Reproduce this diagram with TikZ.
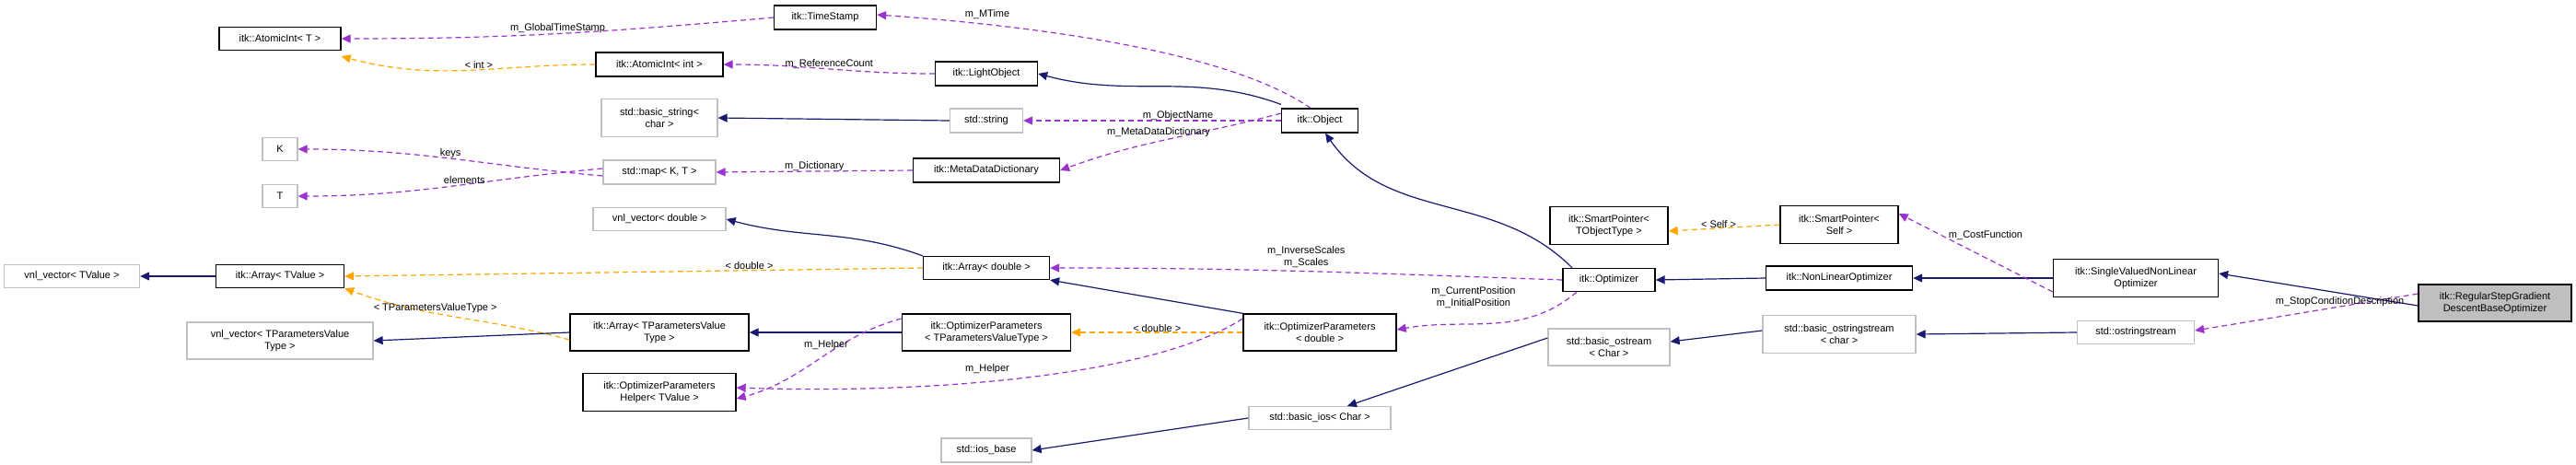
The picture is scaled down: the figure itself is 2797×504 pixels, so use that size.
\documentclass[tikz,border=0pt]{standalone}
\usepackage{fontspec}
\setmainfont{Liberation Sans}
\usetikzlibrary{arrows.meta}
\definecolor{inh}{HTML}{191970}
\definecolor{use}{HTML}{9A32CD}
\definecolor{tpl}{HTML}{FFA500}
\begin{document}
\begin{tikzpicture}[x=1pt,y=-1pt,
  every node/.style={font=\fontsize{11}{13.5}\selectfont, align=center, inner sep=1pt},
  box/.style={draw=black, line width=1.3pt, fill=white},
  gbox/.style={draw=black!25, line width=1.3pt, fill=white},
  mainbox/.style={draw=black, line width=1.3pt, fill=black!25},
  inhe/.style={draw=inh, line width=1.2pt, -{Triangle[length=10pt,width=9pt]}},
  usee/.style={draw=use, line width=1.2pt, dash pattern=on 6pt off 4pt, -{Triangle[length=10pt,width=9pt]}},
  tple/.style={draw=tpl, line width=1.2pt, dash pattern=on 6pt off 4pt, -{Triangle[length=10pt,width=9pt]}},
  lbl/.style={fill=none, inner sep=0pt}]
\useasboundingbox (0,0) rectangle (2797,504);
% nodes
\node[box, minimum width=132, minimum height=25] (ait) at (304,42) {itk::AtomicInt< T >};
\node[box, minimum width=111, minimum height=26] (ts) at (896,19) {itk::TimeStamp};
\node[box, minimum width=138, minimum height=26] (aii) at (716,70) {itk::AtomicInt< int >};
\node[gbox, minimum width=126, minimum height=41] (bs) at (716,128) {std::basic\_string<\\char >};
\node[gbox, minimum width=38, minimum height=25] (K) at (304,162) {K};
\node[gbox, minimum width=38, minimum height=25] (T) at (304,213) {T};
\node[gbox, minimum width=122, minimum height=26] (map) at (716,187) {std::map< K, T >};
\node[gbox, minimum width=144, minimum height=25] (vvd) at (716,238) {vnl\_vector< double >};
\node[gbox, minimum width=147, minimum height=25] (vvt) at (78,300) {vnl\_vector< TValue >};
\node[box, minimum width=139, minimum height=25] (atv) at (304,300) {itk::Array< TValue >};
\node[gbox, minimum width=202, minimum height=40] (vvp) at (304,370) {vnl\_vector< TParametersValue\\Type >};
\node[box, minimum width=194, minimum height=40] (atp) at (716,361) {itk::Array< TParametersValue\\Type >};
\node[box, minimum width=166, minimum height=41] (hlp) at (716,426) {itk::OptimizerParameters\\Helper< TValue >};
\node[box, minimum width=111, minimum height=26] (lo) at (1071,80) {itk::LightObject};
\node[gbox, minimum width=79, minimum height=26] (str) at (1071,131) {std::string};
\node[box, minimum width=159, minimum height=26] (mdd) at (1071,185) {itk::MetaDataDictionary};
\node[box, minimum width=83, minimum height=26] (obj) at (1433,131) {itk::Object};
\node[box, minimum width=137, minimum height=25] (ad) at (1071,291) {itk::Array< double >};
\node[box, minimum width=183, minimum height=40] (opp) at (1071,361) {itk::OptimizerParameters\\< TParametersValueType >};
\node[box, minimum width=166, minimum height=40] (opd) at (1433,361) {itk::OptimizerParameters\\< double >};
\node[box, minimum width=128, minimum height=41] (spt) at (1747,245) {itk::SmartPointer<\\TObjectType >};
\node[box, minimum width=100, minimum height=25] (opt) at (1747,304) {itk::Optimizer};
\node[gbox, minimum width=132, minimum height=40] (bos) at (1747,377) {std::basic\_ostream\\< Char >};
\node[gbox, minimum width=154, minimum height=25] (bio) at (1433,454) {std::basic\_ios< Char >};
\node[gbox, minimum width=98, minimum height=26] (iob) at (1071,489) {std::ios\_base};
\node[box, minimum width=128, minimum height=41] (sps) at (1997,244) {itk::SmartPointer<\\Self >};
\node[box, minimum width=159, minimum height=26] (nlo) at (1997,302) {itk::NonLinearOptimizer};
\node[box, minimum width=179, minimum height=41] (svo) at (2319,302) {itk::SingleValuedNonLinear\\Optimizer};
\node[mainbox, minimum width=166, minimum height=40] (rsg) at (2709,329) {itk::RegularStepGradient\\DescentBaseOptimizer};
\node[gbox, minimum width=166, minimum height=41] (bosc) at (1997,363) {std::basic\_ostringstream\\< char >};
\node[gbox, minimum width=127, minimum height=25] (oss) at (2319,361) {std::ostringstream};
% edges
\draw[usee] (ts.west) to[out=185,in=0] node[lbl, above, pos=0.5]{m\_GlobalTimeStamp} (ait.east);
\draw[tple] (aii.west) to[out=180,in=-15] node[lbl, above, pos=0.45]{< int >} ([yshift=-6]ait.south east);
\draw[usee] (lo.west) to[out=180,in=0] node[lbl, above, pos=0.5]{m\_ReferenceCount} (aii.east);
\draw[inhe] (str.west) -- (bs.east);
\draw[usee] ([yshift=-4]map.west) to[out=175,in=0] node[lbl, above, pos=0.5]{keys} (K.east);
\draw[usee] ([yshift=4]map.west) to[out=185,in=0] node[lbl, above, pos=0.45]{elements} (T.east);
\draw[usee] (mdd.west) -- node[lbl, above, pos=0.5]{m\_Dictionary} (map.east);
\draw[usee] ([xshift=-10]obj.north) .. controls (1340,60) and (1150,30) .. ([yshift=3]ts.east);
\node[lbl] (lmt) at (1072,16) {m\_MTime};
\draw[inhe] ([yshift=4]obj.north west) to[out=160,in=-15] (lo.east);
\draw[usee] (obj.west) -- node[lbl, above, pos=0.4]{m\_ObjectName} (str.east);
\draw[usee] ([yshift=8]obj.west) to[out=195,in=20] (mdd.east);
\node[lbl] (lmd) at (1258,144) {m\_MetaDataDictionary};
\draw[inhe] (ad.north west) to[out=160,in=-15] (vvd.east);
\draw[tple] (ad.west) -- node[lbl, above, pos=0.3]{< double >} (atv.east);
\draw[inhe] (atv.west) -- (vvt.east);
\draw[tple] ([yshift=-8]atp.west) to[out=165,in=-20] node[lbl, above, pos=0.6]{< TParametersValueType >} (atv.south east);
\draw[inhe] (atp.west) -- (vvp.east);
\draw[inhe] (opp.west) -- (atp.east);
\draw[usee] ([yshift=15]opp.west) to[out=195,in=15] ([yshift=-7]hlp.east);
\node[lbl] (lh1) at (897,375) {m\_Helper};
\draw[usee] ([yshift=15]opd.west) .. controls (1250,410) and (1000,428) .. ([yshift=5]hlp.east);
\node[lbl] (lh2) at (1072,401) {m\_Helper};
\draw[tple] (opd.west) -- node[lbl, above, pos=0.5]{< double >} (opp.east);
\draw[inhe] (opd.north west) -- (ad.south east);
\draw[inhe] ([xshift=-40]opt.north) to[out=135,in=-55] ([xshift=6]obj.south);
\draw[usee] (opt.west) to[out=178,in=0] node[lbl, above=3pt, pos=0.5]{m\_InverseScales\\m\_Scales} (ad.east);
\draw[usee] ([xshift=-35]opt.south) to[out=-140,in=10] ([yshift=3]opd.east);
\node[lbl] (lcp) at (1600,323) {m\_CurrentPosition\\m\_InitialPosition};
\draw[tple] (sps.west) -- node[lbl, above, pos=0.55]{< Self >} ([yshift=-6]spt.east);
\draw[inhe] (nlo.west) -- (opt.east);
\draw[inhe] (svo.west) -- (nlo.east);
\draw[usee] ([yshift=-15]svo.west) -- ([yshift=12]sps.east);
\node[lbl] (lcf) at (2156,256) {m\_CostFunction};
\draw[inhe] ([yshift=-3]rsg.west) -- ([yshift=5]svo.east);
\draw[usee] ([yshift=10]rsg.west) -- node[lbl, above, pos=0.35]{m\_StopConditionDescription} ([yshift=2]oss.east);
\draw[inhe] (oss.west) -- (bosc.east);
\draw[inhe] ([yshift=4]bosc.west) -- ([yshift=6]bos.east);
\draw[inhe] ([yshift=10]bos.west) -- ([xshift=30]bio.north);
\draw[inhe] (bio.west) -- (iob.east);
\end{tikzpicture}
\end{document}
